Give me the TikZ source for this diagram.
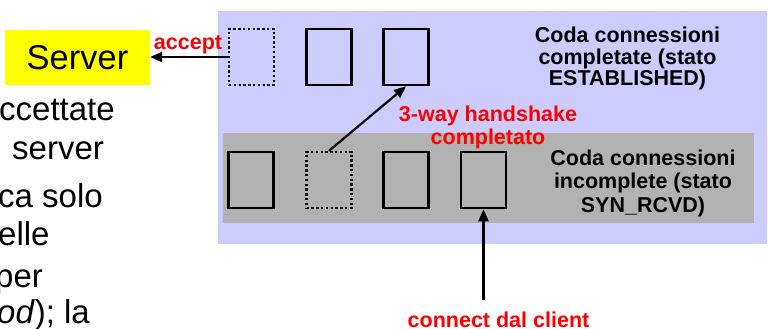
\documentclass[tikz,border=0pt]{standalone}
\usepackage{fontspec}
\setmainfont{Liberation Sans}
\usetikzlibrary{arrows.meta}
\definecolor{qpurple}{HTML}{CCCCFF}
\definecolor{qgray}{HTML}{B2B2B2}
\definecolor{qyellow}{HTML}{FFFF00}
\definecolor{qred}{HTML}{FF0000}
\tikzset{
  slot/.style={draw=black, line width=2.6pt, minimum width=45pt, minimum height=56pt, inner sep=0pt},
  slotdot/.style={slot, line width=2.4pt, dash pattern=on 2.4pt off 2.4pt},
  arr/.style={line width=2.2pt, -{Triangle[length=12pt,width=10pt]}},
  lbl/.style={font=\fontsize{21.5}{22}\selectfont\bfseries, text=qred, inner sep=0pt, anchor=base},
  info/.style={font=\fontsize{21.5}{22}\selectfont\bfseries, text=black, inner sep=0pt, anchor=base},
  body/.style={font=\fontsize{33}{36}\selectfont, text=black, inner sep=0pt, anchor=base west}
}
\begin{document}
\begin{tikzpicture}[x=1pt,y=-1pt]
\useasboundingbox (0,0) rectangle (768,329);
\clip (0,0) rectangle (768,329);
% background panels
\fill[qpurple] (218,11) rectangle (767,244);
\fill[qgray] (223,133) rectangle (754,223);
% server box
\node[fill=qyellow, minimum width=145pt, minimum height=55pt, inner sep=0pt,
      font=\fontsize{34.5}{36}\selectfont] (server) at (77.5,57.5) {Server};
% left body text (cut at the left edge)
\node[body] (t1) at (-1,120) {ccettate};
\node[body] (t2) at (12,159) {server};
\node[body] (t3) at (-2,207) {ca solo};
\node[body] (t4) at (-2,245) {elle};
\node[body] (t5) at (-5,287) {per};
\node[body] (t6) at (-3,323) {\textit{od}); la};
% completed queue
\node[slotdot] (a1) at (251.5,57) {};
\node[slot] (a2) at (329,57) {};
\node[slot] (a3) at (406,57) {};
% incomplete queue
\node[slot] (b1) at (251,180) {};
\node[slotdot] (b2) at (329,180) {};
\node[slot] (b3) at (406,180) {};
\node[slot] (b4) at (483.5,180) {};
% texts
\node[info] (c1) at (627.5,43) {Coda connessioni};
\node[info] (c2) at (627.5,64) {completate (stato};
\node[info] (c3) at (627.5,85) {ESTABLISHED)};
\node[info] (d1) at (643,165) {Coda connessioni};
\node[info] (d2) at (643,188) {incomplete (stato};
\node[info] (d3) at (643,212) {SYN\_RCVD)};
\node[lbl] (acc) at (188,50) {accept};
\node[lbl] (hs1) at (488,121) {3-way handshake};
\node[lbl] (hs2) at (488,144) {completato};
\node[lbl] (con) at (498.5,327) {connect dal client};
% arrows
\coordinate (cstart) at (483.5,300);
\draw[arr] (a1.west) -- (a1.west -| server.east);
\draw[arr] (b2.north) -- (a3.south);
\draw[arr] (cstart) -- (b4.south);
\end{tikzpicture}
\end{document}
